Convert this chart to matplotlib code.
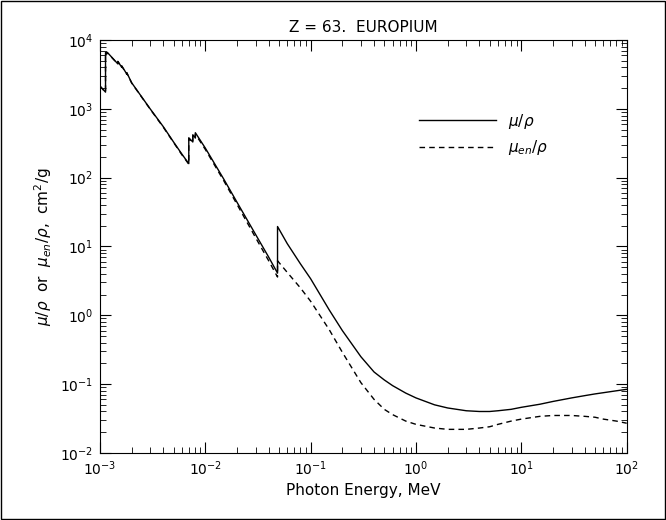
import matplotlib
matplotlib.use("Agg")
import matplotlib.pyplot as plt
import numpy as np

# energies (MeV); repeated values mark absorption edges
energy = [1.0e-3, 1.1309e-3, 1.1309e-3, 1.158e-3, 1.158e-3, 1.2e-3, 1.4806e-3, 1.4806e-3,
          1.6137e-3, 1.6137e-3, 1.8004e-3, 1.8004e-3, 2e-3, 3e-3, 4e-3, 5e-3, 6e-3,
          6.9769e-3, 6.9769e-3, 7.6171e-3, 7.6171e-3, 8.052e-3, 8.052e-3, 1e-2, 1.5e-2,
          2e-2, 3e-2, 4e-2, 4.8519e-2, 4.8519e-2, 6e-2, 8e-2, 0.1, 0.15, 0.2, 0.3, 0.4,
          0.5, 0.6, 0.8, 1, 1.5, 2, 3, 4, 5, 6, 8, 10, 15, 20, 30, 40, 50, 60, 80, 100]
mu_rho = [2150, 1750, 6600, 6300, 6700, 6400, 4500, 4900,
          4000, 4200, 3200, 3350, 2400, 1000, 550, 330, 220,
          160, 380, 330, 420, 380, 450, 270, 95,
          44, 15, 7.0, 4.1, 19.5, 11, 5.6, 3.4, 1.2, 0.6, 0.25, 0.15,
          0.115, 0.095, 0.074, 0.063, 0.05, 0.045, 0.041, 0.040, 0.040, 0.041, 0.043, 0.046,
          0.051, 0.056, 0.063, 0.068, 0.072, 0.075, 0.080, 0.084]
muen_rho = [2140, 1740, 6550, 6250, 6650, 6350, 4470, 4860,
            3970, 4170, 3170, 3320, 2380, 990, 540, 325, 215,
            157, 370, 322, 405, 367, 430, 258, 90,
            41, 13.5, 6.2, 3.6, 6.2, 4.2, 2.5, 1.6, 0.62, 0.29, 0.105, 0.06,
            0.043, 0.036, 0.029, 0.026, 0.023, 0.022, 0.022, 0.023, 0.024, 0.026, 0.029, 0.031,
            0.034, 0.035, 0.035, 0.034, 0.033, 0.031, 0.029, 0.027]

fig = plt.figure(figsize=(6.66, 5.20), dpi=100)
ax = fig.add_axes([0.150, 0.129, 0.791, 0.794])
ax.plot(energy, mu_rho, color="black", lw=1.0, label=r"$\mu/\rho$")
ax.plot(energy, muen_rho, color="black", lw=1.0, ls=(0, (4, 3)), label=r"$\mu_{en}/\rho$")
ax.set_xscale("log")
ax.set_yscale("log")
ax.set_xlim(1e-3, 1e2)
ax.set_ylim(1e-2, 1e4)
ax.tick_params(which="both", direction="in", top=True, right=True)
ax.tick_params(which="major", length=8, pad=5)
ax.tick_params(which="minor", length=4)
ax.set_title("Z = 63.  EUROPIUM", fontsize=11)
ax.set_xlabel("Photon Energy, MeV", fontsize=11, labelpad=3)
ax.set_ylabel(r"$\mu/\rho$  or  $\mu_{en}/\rho$,  cm$^2$/g", fontsize=11)
ax.legend(loc="upper left", bbox_to_anchor=(0.58, 0.86), frameon=False, handlelength=5, fontsize=11)

fig.patches.append(plt.Rectangle((0.002, 0.002), 0.996, 0.996, transform=fig.transFigure,
                                 fill=False, edgecolor="black", lw=1))
fig.savefig("out.png", dpi=100)
